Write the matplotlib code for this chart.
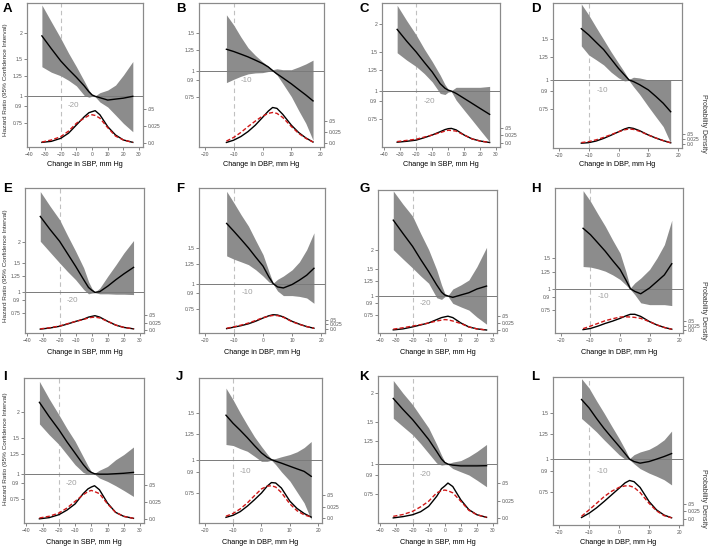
import matplotlib
matplotlib.use('Agg')
import matplotlib.pyplot as plt
from matplotlib.ticker import NullLocator

plt.rcParams['font.family'] = ['Liberation Sans', 'DejaVu Sans']

W, H = 709, 546

# change in SBP / DBP (mm Hg) at which the curves were read
x_sbp = [-32, -26, -20, -15, -10, -5, -2, 0, 2, 5, 10, 15, 20, 26]
x_dbp = [-12.5, -10, -7.5, -5, -2.5, 0, 2, 3.5, 5, 7, 10, 12.5, 15, 17.5]

# A
hr_a = [1.93, 1.68, 1.47, 1.34, 1.23, 1.12, 1.05, 1.015, 1.0, 0.985, 0.96, 0.97, 0.98, 1.0]
hi_a = [2.70, 2.25, 1.88, 1.60, 1.38, 1.18, 1.07, 1.02, 1.005, 1.04, 1.07, 1.13, 1.26, 1.46]
lo_a = [1.38, 1.30, 1.25, 1.19, 1.12, 1.01, 0.99, 1.0, 0.995, 0.94, 0.89, 0.815, 0.745, 0.68]
dn_a = [0.0005, 0.002, 0.0064, 0.014, 0.026, 0.038, 0.044, 0.0456, 0.047, 0.041, 0.0235, 0.0113, 0.004, 0.0005]
rd_a = [0.001, 0.004, 0.0088, 0.017, 0.0285, 0.036, 0.040, 0.041, 0.040, 0.036, 0.022, 0.0097, 0.004, 0.0005]
# B
hr_b = [1.26, 1.23, 1.195, 1.16, 1.12, 1.08, 1.04, 1.0, 0.965, 0.925, 0.866, 0.815, 0.768, 0.72]
hi_b = [1.83, 1.64, 1.44, 1.28, 1.18, 1.10, 1.05, 1.01, 1.02, 1.01, 1.01, 1.04, 1.075, 1.12]
lo_b = [0.878, 0.91, 0.94, 0.965, 0.975, 0.978, 0.99, 0.995, 0.954, 0.87, 0.754, 0.65, 0.565, 0.47]
dn_b = [0.002, 0.007, 0.015, 0.026, 0.040, 0.057, 0.071, 0.079, 0.077, 0.064, 0.040, 0.024, 0.012, 0.003]
rd_b = [0.005, 0.013, 0.024, 0.037, 0.049, 0.060, 0.066, 0.068, 0.066, 0.057, 0.037, 0.022, 0.011, 0.003]
# C
hr_c = [1.90, 1.68, 1.50, 1.35, 1.22, 1.08, 1.03, 1.01, 1.0, 0.976, 0.927, 0.88, 0.835, 0.785]
hi_c = [2.44, 2.08, 1.79, 1.55, 1.36, 1.18, 1.07, 1.02, 1.005, 1.04, 1.04, 1.04, 1.04, 1.05]
lo_c = [1.49, 1.38, 1.29, 1.20, 1.10, 0.976, 0.965, 0.99, 0.995, 0.91, 0.82, 0.74, 0.667, 0.59]
dn_c = [0.002, 0.005, 0.009, 0.017, 0.026, 0.037, 0.044, 0.047, 0.048, 0.043, 0.026, 0.013, 0.006, 0.001]
rd_c = [0.004, 0.008, 0.012, 0.019, 0.026, 0.034, 0.039, 0.042, 0.041, 0.039, 0.026, 0.013, 0.006, 0.001]
# D
hr_d = [1.66, 1.56, 1.45, 1.35, 1.23, 1.12, 1.05, 1.0, 0.984, 0.955, 0.906, 0.85, 0.794, 0.73]
hi_d = [2.12, 1.90, 1.68, 1.49, 1.32, 1.18, 1.08, 1.005, 1.027, 1.02, 1.0, 1.0, 1.0, 1.0]
lo_d = [1.40, 1.28, 1.22, 1.16, 1.08, 1.02, 0.99, 0.995, 0.936, 0.87, 0.768, 0.695, 0.63, 0.535]
dn_d = [0.004, 0.0067, 0.015, 0.028, 0.044, 0.061, 0.075, 0.082, 0.078, 0.067, 0.045, 0.030, 0.017, 0.006]
rd_d = [0.007, 0.012, 0.021, 0.033, 0.047, 0.061, 0.071, 0.075, 0.073, 0.064, 0.045, 0.030, 0.017, 0.006]
# E
hr_e = [2.84, 2.38, 2.02, 1.70, 1.43, 1.19, 1.07, 1.03, 1.0, 1.01, 1.09, 1.19, 1.29, 1.41]
hi_e = [4.0, 3.28, 2.72, 2.18, 1.76, 1.40, 1.16, 1.06, 1.005, 1.06, 1.25, 1.46, 1.72, 2.04]
lo_e = [2.02, 1.74, 1.50, 1.33, 1.19, 1.04, 0.98, 0.99, 0.995, 0.98, 0.98, 0.975, 0.975, 0.97]
dn_e = [0.002, 0.006, 0.012, 0.020, 0.029, 0.037, 0.044, 0.0465, 0.049, 0.044, 0.029, 0.016, 0.008, 0.003]
rd_e = [0.003, 0.007, 0.013, 0.021, 0.029, 0.036, 0.041, 0.043, 0.044, 0.041, 0.029, 0.016, 0.008, 0.003]
# F
hr_f = [1.98, 1.81, 1.65, 1.50, 1.35, 1.22, 1.08, 1.0, 0.963, 0.952, 0.99, 1.04, 1.10, 1.19]
hi_f = [2.85, 2.50, 2.18, 1.92, 1.63, 1.39, 1.15, 1.005, 1.05, 1.09, 1.17, 1.28, 1.47, 1.78]
lo_f = [1.37, 1.32, 1.28, 1.24, 1.17, 1.09, 1.02, 0.995, 0.92, 0.873, 0.873, 0.865, 0.85, 0.80]
dn_f = [0.002, 0.01, 0.018, 0.028, 0.042, 0.059, 0.071, 0.077, 0.075, 0.065, 0.041, 0.026, 0.013, 0.004]
rd_f = [0.004, 0.012, 0.021, 0.032, 0.046, 0.061, 0.069, 0.073, 0.072, 0.063, 0.039, 0.025, 0.013, 0.004]
# G
hr_g = [3.11, 2.55, 2.10, 1.73, 1.44, 1.18, 1.06, 1.015, 1.0, 0.98, 1.015, 1.05, 1.11, 1.16]
hi_g = [4.81, 3.95, 3.30, 2.55, 2.0, 1.48, 1.18, 1.04, 1.005, 1.11, 1.18, 1.27, 1.55, 2.07]
lo_g = [2.0, 1.74, 1.52, 1.35, 1.21, 0.975, 0.95, 0.99, 0.995, 0.896, 0.85, 0.81, 0.73, 0.656]
dn_g = [0.0015, 0.005, 0.012, 0.019, 0.026, 0.038, 0.045, 0.0476, 0.050, 0.045, 0.026, 0.012, 0.005, 0.001]
rd_g = [0.004, 0.009, 0.015, 0.020, 0.026, 0.033, 0.036, 0.038, 0.037, 0.033, 0.024, 0.012, 0.005, 0.001]
# H
hr_h = [2.22, 2.04, 1.83, 1.64, 1.45, 1.29, 1.12, 1.0, 0.965, 0.935, 1.01, 1.10, 1.20, 1.39]
hi_h = [3.65, 3.17, 2.68, 2.28, 1.90, 1.60, 1.25, 1.01, 1.08, 1.15, 1.29, 1.50, 1.79, 2.47]
lo_h = [1.34, 1.33, 1.30, 1.26, 1.20, 1.13, 1.05, 0.99, 0.924, 0.83, 0.81, 0.81, 0.81, 0.80]
dn_h = [0.004, 0.01, 0.022, 0.036, 0.048, 0.062, 0.075, 0.083, 0.083, 0.072, 0.045, 0.028, 0.015, 0.006]
rd_h = [0.009, 0.022, 0.036, 0.05, 0.060, 0.069, 0.070, 0.069, 0.067, 0.062, 0.045, 0.028, 0.015, 0.006]
# I
hr_i = [2.23, 1.90, 1.64, 1.43, 1.26, 1.11, 1.04, 1.015, 1.0, 0.995, 0.995, 1.0, 1.005, 1.015]
hi_i = [2.82, 2.32, 1.94, 1.66, 1.44, 1.21, 1.09, 1.026, 1.005, 1.04, 1.085, 1.17, 1.24, 1.35]
lo_i = [1.75, 1.55, 1.39, 1.24, 1.106, 1.015, 0.99, 1.0, 0.995, 0.953, 0.917, 0.874, 0.829, 0.775]
dn_i = [0.0003, 0.002, 0.0063, 0.013, 0.022, 0.037, 0.044, 0.0466, 0.0485, 0.0427, 0.0233, 0.0097, 0.0039, 0.001]
rd_i = [0.0015, 0.004, 0.0087, 0.016, 0.0257, 0.0354, 0.040, 0.0417, 0.040, 0.037, 0.022, 0.0097, 0.0039, 0.001]
# J
hr_j = [1.47, 1.37, 1.29, 1.21, 1.13, 1.06, 1.02, 1.0, 0.986, 0.97, 0.944, 0.923, 0.903, 0.865]
hi_j = [1.86, 1.68, 1.50, 1.35, 1.22, 1.12, 1.05, 1.005, 1.01, 1.025, 1.045, 1.07, 1.11, 1.17]
lo_j = [1.14, 1.13, 1.10, 1.075, 1.03, 0.985, 0.985, 0.995, 0.957, 0.90, 0.83, 0.755, 0.687, 0.594]
dn_j = [0.0015, 0.006, 0.014, 0.026, 0.040, 0.055, 0.070, 0.078, 0.077, 0.066, 0.037, 0.021, 0.010, 0.002]
rd_j = [0.004, 0.010, 0.020, 0.033, 0.049, 0.064, 0.070, 0.071, 0.068, 0.056, 0.031, 0.016, 0.007, 0.002]
# K
hr_k = [1.89, 1.70, 1.54, 1.40, 1.27, 1.13, 1.05, 1.016, 1.0, 0.99, 0.983, 0.983, 0.983, 0.985]
hi_k = [2.25, 1.99, 1.78, 1.59, 1.42, 1.21, 1.09, 1.025, 1.005, 1.02, 1.035, 1.076, 1.13, 1.21]
lo_k = [1.56, 1.44, 1.33, 1.22, 1.11, 1.01, 0.99, 0.995, 0.995, 0.958, 0.928, 0.90, 0.856, 0.803]
dn_k = [0.0002, 0.002, 0.0047, 0.009, 0.0167, 0.031, 0.042, 0.0457, 0.050, 0.045, 0.026, 0.012, 0.0047, 0.001]
rd_k = [0.0024, 0.005, 0.0095, 0.016, 0.024, 0.036, 0.039, 0.040, 0.039, 0.036, 0.024, 0.011, 0.0047, 0.001]
# L
hr_l = [1.69, 1.57, 1.43, 1.31, 1.21, 1.12, 1.05, 1.0, 0.979, 0.965, 0.979, 1.0, 1.023, 1.05]
hi_l = [2.03, 1.87, 1.67, 1.50, 1.34, 1.20, 1.09, 1.005, 1.04, 1.065, 1.09, 1.13, 1.185, 1.28]
lo_l = [1.43, 1.35, 1.27, 1.185, 1.11, 1.04, 1.0, 0.995, 0.96, 0.92, 0.884, 0.86, 0.834, 0.797]
dn_l = [0.005, 0.019, 0.037, 0.058, 0.080, 0.102, 0.120, 0.128, 0.124, 0.105, 0.058, 0.030, 0.013, 0.004]
rd_l = [0.009, 0.030, 0.052, 0.074, 0.092, 0.105, 0.110, 0.110, 0.105, 0.088, 0.052, 0.027, 0.011, 0.004]

hr_ticks_sbp = [0.75, 0.9, 1, 1.25, 1.5, 2]
hr_labels_sbp = ['0.75', '0.9', '1', '1.25', '1.5', '2']
hr_ticks_dbp = [0.75, 0.9, 1, 1.25, 1.5]
hr_labels_dbp = ['0.75', '0.9', '1', '1.25', '1.5']
dens_ticks = [0.0, 0.025, 0.05]
dens_labels = ['0.0', '0.025', '.05']

# letter, measure, box (px: left, top, right, bottom), hr ylim, density ylim
layout = [
    ('A', 'SBP', (27, 3, 143, 147), (0.576, 2.76), (-0.0063, 0.205), hr_a, lo_a, hi_a, dn_a, rd_a),
    ('B', 'DBP', (199, 3, 324, 147), (0.437, 2.08), (-0.008, 0.309), hr_b, lo_b, hi_b, dn_b, rd_b),
    ('C', 'SBP', (382, 3, 500, 147), (0.559, 2.50), (-0.014, 0.466), hr_c, lo_c, hi_c, dn_c, rd_c),
    ('D', 'DBP', (553, 3, 682, 148), (0.51, 2.14), (-0.02, 0.705), hr_d, lo_d, hi_d, dn_d, rd_d),
    ('E', 'SBP', (25, 188, 144, 333), (0.572, 4.20), (-0.0115, 0.495), hr_e, lo_e, hi_e, dn_e, rd_e),
    ('F', 'DBP', (199, 188, 325, 333), (0.571, 2.96), (-0.0215, 0.758), hr_f, lo_f, hi_f, dn_f, rd_f),
    ('G', 'SBP', (378, 190, 497, 333), (0.575, 4.88), (-0.0096, 0.4975), hr_g, lo_g, hi_g, dn_g, rd_g),
    ('H', 'DBP', (555, 188, 683, 333), (0.557, 3.78), (-0.0134, 0.734), hr_h, lo_h, hi_h, dn_h, rd_h),
    ('I', 'SBP', (24, 378, 144, 523), (0.575, 2.93), (-0.0058, 0.2055), hr_i, lo_i, hi_i, dn_i, rd_i),
    ('J', 'DBP', (199, 378, 322, 523), (0.577, 2.03), (-0.011, 0.308), hr_j, lo_j, hi_j, dn_j, rd_j),
    ('K', 'SBP', (378, 376, 497, 523), (0.565, 2.35), (-0.0071, 0.203), hr_k, lo_k, hi_k, dn_k, rd_k),
    ('L', 'DBP', (553, 377, 683, 525), (0.56, 2.06), (-0.02, 0.472), hr_l, lo_l, hi_l, dn_l, rd_l),
]

spine_col = '#8a8a8a'
fig = plt.figure(figsize=(W / 100, H / 100), dpi=100)

for k, (letter, meas, box, hr_lim, d_lim, hr, lo, hi, dn, rd) in enumerate(layout):
    x0, y0, x1, y1 = box
    ax = fig.add_axes([x0 / W, 1 - y1 / H, (x1 - x0) / W, (y1 - y0) / H])
    sbp = meas == 'SBP'
    xs = x_sbp if sbp else x_dbp
    ref = -20 if sbp else -10

    ax.set_yscale('log')
    ax.fill_between(xs, lo, hi, color='#8c8c8c', lw=0, zorder=1)
    ax.plot(xs, hr, color='black', lw=1.0, zorder=3, solid_joinstyle='round')
    ax.axhline(1, color='#7a7a7a', lw=0.7, zorder=2)
    ax.axvline(ref, color='#c0c0c0', lw=0.8, ls=(0, (4, 3)), zorder=0)
    ax.text(ref + (8 if sbp else 4.5), 0.9, str(ref), color='#a0a0a0', fontsize=5.8,
            ha='center', va='center')

    if sbp:
        ax.set_xlim(-41.5, 32.5)
        ax.set_xticks(range(-40, 31, 10))
        ax.set_yticks(hr_ticks_sbp, hr_labels_sbp)
    else:
        ax.set_xlim(-22, 21.3)
        ax.set_xticks(range(-20, 21, 10))
        ax.set_yticks(hr_ticks_dbp, hr_labels_dbp)
    ax.yaxis.set_minor_locator(NullLocator())
    ax.set_ylim(hr_lim)
    ax.tick_params(labelsize=3.6, length=2, width=0.5, pad=1.5, colors='#555555')

    ax2 = ax.twinx()
    ax2.plot(xs, dn, color='black', lw=1.0, solid_joinstyle='round')
    ax2.plot(xs, rd, color='#d01818', lw=1.0, ls=(0, (3, 1.6)))
    ax2.set_ylim(d_lim)
    ax2.set_yticks(dens_ticks, dens_labels)
    ax2.tick_params(labelsize=3.6, length=2, width=0.5, pad=1.5, colors='#555555')

    for a in (ax, ax2):
        for s in a.spines.values():
            s.set_color(spine_col)
            s.set_linewidth(0.8)

    # panel letter
    lx = {0: 3, 1: 176, 2: 359, 3: 531}[k % 4]
    ly = {0: 3, 1: 183, 2: 371}[k // 4]
    fig.text(lx / W, 1 - ly / H, letter, fontsize=9.5, fontweight='bold', va='top', ha='left')

    # x label
    xl_y = {0: 165, 1: 352, 2: 542}[k // 4]
    fig.text((x0 + x1) / 2 / W, 1 - xl_y / H, 'Change in %s, mm Hg' % meas,
             fontsize=5.2, ha='center', va='center')

# left / right axis titles
for yc in (80, 266, 449):
    fig.text(6 / W, 1 - yc / H, 'Hazard Ratio (95% Confidence Interval)', rotation=90,
             fontsize=4.6, ha='center', va='center', color='#333333')
for yc in (123, 310, 498):
    fig.text(703 / W, 1 - yc / H, 'Probability Density', rotation=270,
             fontsize=5, ha='center', va='center', color='#333333')

fig.savefig('out.png', dpi=100)
